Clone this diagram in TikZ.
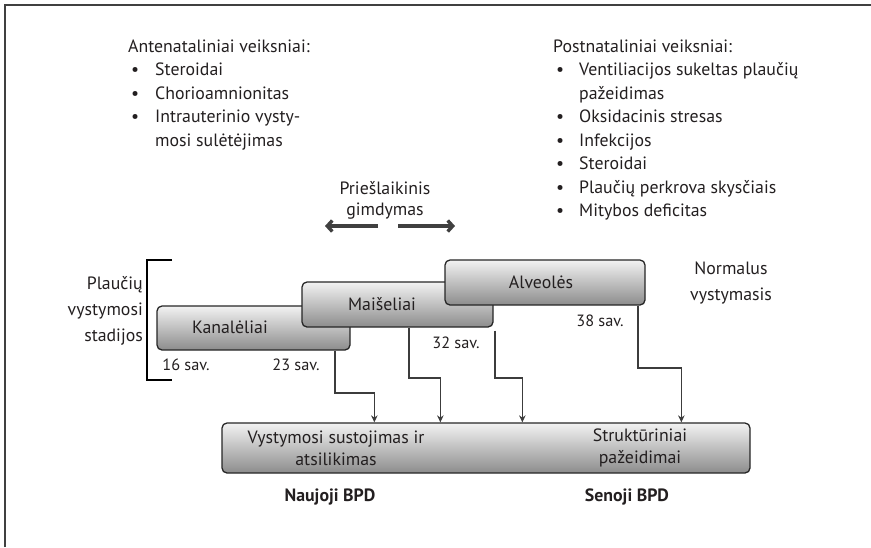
\documentclass[tikz,border=0pt]{standalone}
\usepackage{fontspec}
\setmainfont{PT Sans}
\usetikzlibrary{arrows.meta}
\definecolor{txt}{HTML}{231F20}
\definecolor{wire}{HTML}{3C3C3C}
\tikzset{
    stage/.style={draw=black!85, line width=1.3pt, rounded corners=5pt,
        top color=black!5, bottom color=black!45, inner sep=0pt},
    lbl/.style={inner sep=0pt, text=txt, font=\fontsize{17.8}{23.5}\selectfont},
    week/.style={inner sep=0pt, text=txt, font=\fontsize{16.3}{18}\selectfont},
    conn/.style={wire, line width=1.7pt, -{Stealth[length=7pt,width=6.5pt]}},
    birth/.style={black!75, line width=3.4pt, -{Straight Barb[length=5pt,width=11pt]}},
}
\begin{document}
\begin{tikzpicture}[x=1pt, y=-1pt]
    \useasboundingbox (0,0) rectangle (871,547);
    % frame
    \draw [black!75, line width=1.2pt] (5,547) -- (5,5) -- (871,5);
    % risk factors
    \node [lbl, anchor=base west] (ante) at (128,52) {\fontsize{17.8}{23.5}\selectfont
        \begin{tabular}[t]{@{\hspace{3pt}}l@{\hspace{16pt}}l@{}}
        \multicolumn{2}{@{}l@{}}{Antenataliniai veiksniai:}\\
        \textbullet & Steroidai\\
        \textbullet & Chorioamnionitas\\
        \textbullet & Intrauterinio vysty-\\
                    & mosi sulėtėjimas
        \end{tabular}};
    \node [lbl, anchor=base west] (post) at (553,52) {\fontsize{17.8}{23.5}\selectfont
        \begin{tabular}[t]{@{\hspace{3pt}}l@{\hspace{15pt}}l@{}}
        \multicolumn{2}{@{}l@{}}{Postnataliniai veiksniai:}\\
        \textbullet & Ventiliacijos sukeltas plaučių\\
                    & pažeidimas\\
        \textbullet & Oksidacinis stresas\\
        \textbullet & Infekcijos\\
        \textbullet & Steroidai\\
        \textbullet & Plaučių perkrova skysčiais\\
        \textbullet & Mitybos deficitas
        \end{tabular}};
    % preterm birth
    \node [lbl, align=center, font=\fontsize{17.8}{21}\selectfont] (pre) at (385,200) {Priešlaikinis\\gimdymas};
    \coordinate (pl0) at (378,226);
    \coordinate (pl) at (325,226);
    \coordinate (pr0) at (398,226);
    \coordinate (pr) at (455,226);
    \draw [birth] (pl0) -- (pl);
    \draw [birth] (pr0) -- (pr);
    % stages
    \node [lbl, anchor=east, align=right, font=\fontsize{17.8}{26}\selectfont] (stad) at (143,311) {Plaučių\\vystymosi\\stadijos};
    \draw [black, line width=1.1pt] (172,260) -- (147,260) -- (147,380) -- (172,380);
    \node [stage, minimum width=193pt, minimum height=44pt] (kan) at (253.5,328) {};
    \node [lbl] (kant) at (230,327) {Kanalėliai};
    \node [stage, minimum width=191pt, minimum height=45pt] (mai) at (397.5,304.5) {};
    \node [lbl] (mait) at (382,304) {Maišeliai};
    \node [stage, minimum width=200pt, minimum height=45pt] (alv) at (545,282.5) {};
    \node [lbl] (alvt) at (541,282) {Alveolės};
    \node [lbl, align=center, font=\fontsize{17.8}{26}\selectfont] (norm) at (731,283) {Normalus\\vystymasis};
    \node [week] (w16) at (186,365) {16 sav.};
    \node [week] (w23) at (296,365) {23 sav.};
    \node [week] (w32) at (456,343) {32 sav.};
    \node [week] (w38) at (600,321) {38 sav.};
    % outcome
    \node [stage, minimum width=528pt, minimum height=50pt] (res) at (486,448) {};
    \node [lbl, align=center, font=\fontsize{17.8}{22}\selectfont] (arr) at (336,448) {Vystymosi sustojimas ir\\atsilikimas};
    \node [lbl, align=center, font=\fontsize{17.8}{22}\selectfont] (str) at (640,448) {Struktūriniai\\pažeidimai};
    \node [lbl, font=\fontsize{17.8}{20}\bfseries] (new) at (330,497) {Naujoji BPD};
    \node [lbl, font=\fontsize{17.8}{20}\bfseries] (old) at (627,497) {Senoji BPD};
    % connectors
    \draw [conn] ([xshift=-16pt]kan.south east) -- ++(0,42) -| ([xshift=153pt]res.north west);
    \draw [conn] ([xshift=-85pt]mai.south east) -- ++(0,50) -| ([xshift=219pt]res.north west);
    \draw [conn] ([xshift=1pt,yshift=-3pt]mai.south east) -- ++(0,47) -| ([xshift=301pt]res.north west);
    \draw [conn] ([xshift=-8pt]alv.south east) -- ++(0,62) -| ([xshift=460pt]res.north west);
\end{tikzpicture}
\end{document}
